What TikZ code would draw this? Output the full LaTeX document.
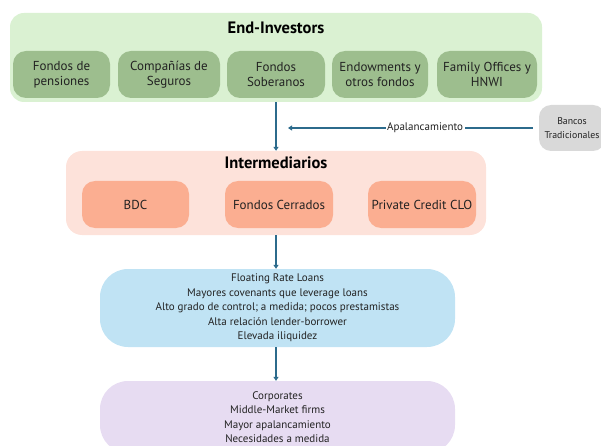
\documentclass[tikz,border=0pt]{standalone}
\usepackage{fontspec}
\setmainfont{PT Sans}
\usepackage{xcolor}
\usetikzlibrary{arrows.meta, positioning}
\definecolor{InvOuter}{HTML}{DAF1D2}
\definecolor{InvInner}{HTML}{9DBE8E}
\definecolor{IntOuter}{HTML}{FDE2DA}
\definecolor{IntInner}{HTML}{FBAE91}
\definecolor{LoanBlue}{HTML}{C0E3F4}
\definecolor{CorpLilac}{HTML}{E7DCF2}
\definecolor{BankGrey}{HTML}{D9D9D9}
\definecolor{FlowBlue}{HTML}{2C6B8C}
\definecolor{TextGrey}{HTML}{222222}

\tikzset{
    panel/.style={rectangle, rounded corners=14pt, draw=none, inner sep=0pt},
    tile/.style={rectangle, rounded corners=13pt, draw=none, align=center, inner sep=0pt,
        minimum height=47pt, font=\fontsize{13}{15}\selectfont, text=TextGrey},
    infobox/.style={rectangle, rounded corners=28pt, draw=none, align=center, inner sep=0pt,
        minimum width=355pt, font=\fontsize{11}{14.4}\selectfont, text=TextGrey},
    title/.style={font=\fontsize{16.5}{18}\selectfont\bfseries, text=black},
    flow/.style={draw=FlowBlue, line width=1.5pt, -{Triangle[width=5pt,length=4pt]}}
}

\begin{document}
\begin{tikzpicture}[x=1pt, y=-1pt]
    \clip (0,0) rectangle (601,446);

    % End-Investors
    \node[panel, fill=InvOuter, minimum width=532pt, minimum height=89pt] (inv) at (276,57.5) {};
    \node[title] (invt) at (276,28) {End-Investors};
    \node[tile, fill=InvInner, minimum width=97pt] (pens) at (61.5,74.5) {Fondos de\\pensiones};
    \node[tile, fill=InvInner, minimum width=102pt] (segu) at (169,74.5) {Compañías de\\Seguros};
    \node[tile, fill=InvInner, minimum width=98pt] (sobe) at (276,74.5) {Fondos\\Soberanos};
    \node[tile, fill=InvInner, minimum width=96pt] (endo) at (380,74.5) {Endowments y\\otros fondos};
    \node[tile, fill=InvInner, minimum width=100pt] (fami) at (487,74.5) {Family Offices y\\HNWI};

    % Bancos
    \node[panel, rounded corners=12pt, fill=BankGrey, minimum width=66pt, minimum height=46pt,
        align=center, font=\fontsize{9.8}{14}\selectfont, text=TextGrey] (banc) at (572,128) {Bancos\\Tradicionales};
    \coordinate (lev) at (288,128);

    % Intermediarios
    \node[panel, rounded corners=16pt, fill=IntOuter, minimum width=420pt, minimum height=84pt] (inter) at (276,193) {};
    \node[title] (intt) at (276,163) {Intermediarios};
    \node[tile, fill=IntInner, minimum width=107pt] (bdc) at (135.5,204.5) {BDC};
    \node[tile, fill=IntInner, minimum width=108pt] (cerr) at (279,204.5) {Fondos Cerrados};
    \node[tile, fill=IntInner, minimum width=108pt] (clo) at (422,204.5) {Private Credit CLO};

    % prestamos y empresas
    \node[infobox, fill=LoanBlue, minimum height=78pt] (loan) at (277.5,308) {Floating Rate Loans\\Mayores covenants que leverage loans\\Alto grado de control; a medida; pocos prestamistas\\Alta relación lender-borrower\\Elevada iliquidez};
    \node[infobox, fill=CorpLilac, minimum height=72pt] (corp) at (277.5,417) {Corporates\\Middle-Market firms\\Mayor apalancamiento\\Necesidades a medida};

    % flechas
    \draw[flow] (inv.south -| inter.north) -- (inter.north);
    \draw[flow] (banc.west) ++(-6pt,0) -- (lev) node[pos=0.44, fill=white, inner sep=1.5pt, text=TextGrey, font=\fontsize{11}{13}\selectfont] {Apalancamiento};
    \draw[flow] (inter.south) -- (inter.south |- loan.north);
    \draw[flow] (loan.south -| inter.south) -- (corp.north -| inter.south);
\end{tikzpicture}
\end{document}
